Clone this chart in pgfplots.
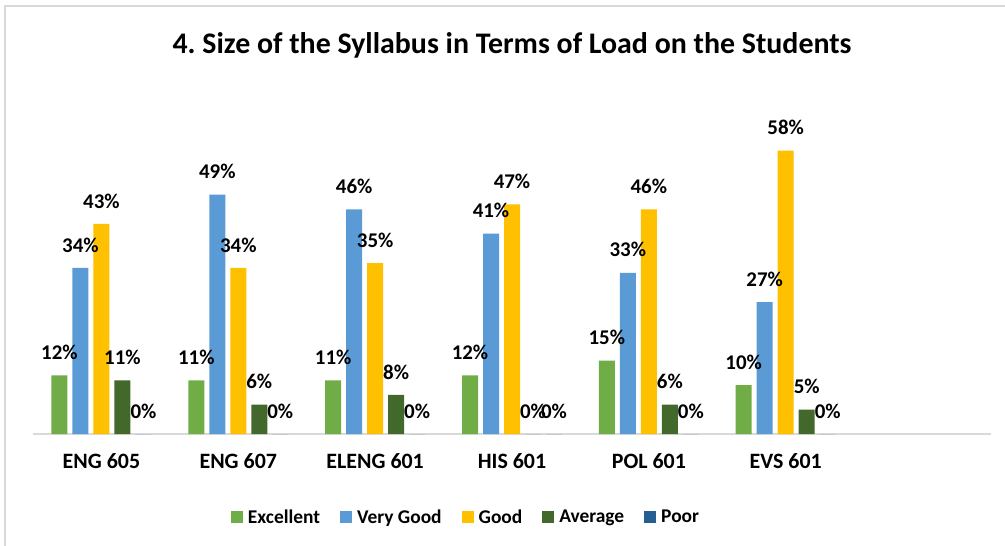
\documentclass[border=0pt]{standalone}
\usepackage{fontspec}
\setmainfont{Carlito}
\usepackage{pgfplots}
\pgfplotsset{compat=1.18}
\definecolor{cExc}{HTML}{70AD47}
\definecolor{cVG}{HTML}{5B9BD5}
\definecolor{cGood}{HTML}{FFC000}
\definecolor{cAvg}{HTML}{43682B}
\definecolor{cPoor}{HTML}{255E91}
\begin{document}
\frenchspacing
\begin{tikzpicture}
\useasboundingbox (0,0) rectangle (1005bp,-546bp);
\fill[white] (0,0) rectangle (1005bp,-546bp);
\draw[black!15, line width=1.5bp] (5bp,-546bp) -- (5bp,-6bp) -- (1005bp,-6bp);
\node[font=\bfseries\fontsize{30}{34}\selectfont] at (512bp,-45bp) {4.\ Size of the Syllabus in Terms of Load on the Students};
\begin{axis}[
  at={(33bp,-434bp)}, anchor=south west, scale only axis,
  width=958bp, height=342bp,
  xmin=-0.5, xmax=6.5, ymin=0, ymax=70,
  ybar, bar width=16bp,
  hide y axis, axis x line*=bottom,
  x axis line style={draw=black!15, line width=1.5bp},
  xtick={0,1,2,3,4,5},
  xticklabels={ENG 605,ENG 607,ELENG 601,HIS 601,POL 601,EVS 601},
  major tick length=0pt,
  /pgf/number format/assume math mode=true,
  xticklabel style={font=\bfseries\fontsize{22}{26}\selectfont, anchor=base, yshift=-34bp},
  nodes near coords={\pgfmathprintnumber{\pgfplotspointmeta}\%},
  every node near coord/.append style={font=\bfseries\fontsize{21}{25}\selectfont, anchor=center, yshift=23bp, text=black, inner sep=0pt},
  clip=false,
  legend columns=5,
  legend style={at={(0.452,-0.243)}, anchor=center, draw=none, fill=none,
    font=\bfseries\fontsize{19.5}{23}\selectfont,
    /tikz/every odd column/.append style={column sep=3bp},
    /tikz/every even column/.append style={column sep=18bp}},
  legend image code/.code={\fill[#1] (0bp,-6bp) rectangle (12bp,6bp);},
]
\addplot[fill=cExc, draw=none, bar shift=-42bp] coordinates {(0,12) (1,11) (2,11) (3,12) (4,15) (5,10)};
\addplot[fill=cVG, draw=none, bar shift=-21bp] coordinates {(0,34) (1,49) (2,46) (3,41) (4,33) (5,27)};
\addplot[fill=cGood, draw=none, bar shift=0bp] coordinates {(0,43) (1,34) (2,35) (3,47) (4,46) (5,58)};
\addplot[fill=cAvg, draw=none, bar shift=21bp] coordinates {(0,11) (1,6) (2,8) (3,0) (4,6) (5,5)};
\addplot[fill=cPoor, draw=none, bar shift=42bp] coordinates {(0,0) (1,0) (2,0) (3,0) (4,0) (5,0)};
\legend{Excellent,Very Good,Good,Average,Poor}
\end{axis}
\end{tikzpicture}
\end{document}
